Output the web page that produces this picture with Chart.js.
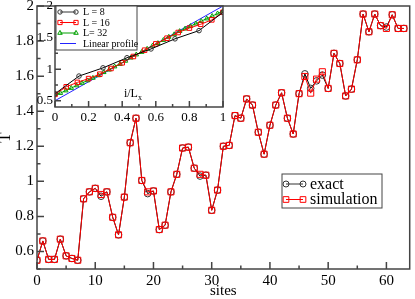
<!DOCTYPE html>
<html>
<head>
<meta charset="utf-8">
<script src="https://cdn.jsdelivr.net/npm/chart.js@4/dist/chart.umd.min.js"></script>
<style>
  body { margin: 0; background: #fff; }
  #wrap { position: relative; width: 415px; height: 299px; }
  #main { position: absolute; left: 0; top: 0; }
  #inset { position: absolute; left: 0; top: 0; }
</style>
</head>
<body>
<div id="wrap">
  <canvas id="main" width="415" height="299"></canvas>
  <canvas id="inset" width="228" height="125"></canvas>
</div>
<script>
// main plot: temperature along the chain
var sites = [];
for (var s = 0; s < 64; s++) sites.push(s);

var exactT = [0.55, 0.66, 0.555, 0.555, 0.67, 0.575, 0.56, 0.55, 0.90, 0.94,
              0.96, 0.915, 0.94, 0.795, 0.695, 0.91, 1.22, 1.36, 1.005, 0.93,
              0.945, 0.725, 0.75, 0.94, 1.04, 1.19, 1.195, 1.075, 1.03, 1.035,
              0.835, 0.95, 1.20, 1.205, 1.375, 1.36, 1.47, 1.435, 1.28, 1.155,
              1.32, 1.435, 1.505, 1.36, 1.27, 1.50, 1.613, 1.53, 1.573, 1.606,
              1.53, 1.73, 1.672, 1.487, 1.526, 1.693, 1.954, 1.853, 1.954, 1.888,
              1.88, 1.95, 1.872, 1.872];
var simT   = [0.55, 0.66, 0.555, 0.555, 0.67, 0.575, 0.56, 0.55, 0.90, 0.94,
              0.96, 0.925, 0.94, 0.795, 0.695, 0.91, 1.22, 1.36, 1.005, 0.94,
              0.945, 0.725, 0.75, 0.94, 1.04, 1.19, 1.195, 1.075, 1.04, 1.035,
              0.835, 0.95, 1.20, 1.205, 1.375, 1.36, 1.47, 1.435, 1.28, 1.155,
              1.32, 1.435, 1.505, 1.36, 1.27, 1.50, 1.598, 1.503, 1.583, 1.625,
              1.53, 1.73, 1.672, 1.487, 1.526, 1.693, 1.954, 1.853, 1.954, 1.888,
              1.872, 1.95, 1.872, 1.872];

var xMajor = [0, 10, 20, 30, 40, 50, 60];
var xMinor = [5, 15, 25, 35, 45, 55];
var yMajor = [0.6, 0.8, 1, 1.2, 1.4, 1.6, 1.8, 2];
var yMinor = [0.5, 0.7, 0.9, 1.1, 1.3, 1.5, 1.7, 1.9];

// inset: profiles vs i/Lx
var xL8  = [0, 1/7, 2/7, 3/7, 4/7, 5/7, 6/7, 1];
var tL8  = [0.61, 0.89, 1.02, 1.18, 1.32, 1.48, 1.61, 1.90];
var xL16 = [];
for (var a = 0; a < 16; a++) xL16.push(a / 15);
var tL16 = [0.60, 0.72, 0.79, 0.85, 0.92, 1.01, 1.10, 1.20,
            1.30, 1.40, 1.49, 1.58, 1.65, 1.71, 1.78, 1.90];
var xL32 = [];
for (var b = 0; b < 32; b++) xL32.push(b / 31);
var tL32 = [0.60, 0.62, 0.66, 0.70, 0.74, 0.78, 0.82, 0.86, 0.90, 0.95,
            0.99, 1.04, 1.08, 1.13, 1.18, 1.23, 1.27, 1.32, 1.37, 1.41,
            1.46, 1.51, 1.55, 1.60, 1.64, 1.68, 1.72, 1.76, 1.80, 1.84,
            1.88, 1.92];
var xLin = [0, 1];
var tLin = [0.5, 2];

var ixMajor = [0, 0.2, 0.4, 0.6, 0.8, 1];
var ixMinor = [0.1, 0.3, 0.5, 0.7, 0.9];
var iyMajor = [0.5, 1, 1.5, 2];
var iyMinor = [0.75, 1.25, 1.75];

var serif = "'Liberation Serif', 'DejaVu Serif', serif";
var frameColor = '#444';

function pts(xs, ys) {
  return xs.map(function (x, i) { return { x: x, y: ys[i] }; });
}
function plain(v) { return String(v); }
function noPad(sc) {
  sc.paddingLeft = 0; sc.paddingRight = 0;
  sc.paddingTop = 0; sc.paddingBottom = 0;
}

function marker(ctx, style, x, y, r, color) {
  ctx.strokeStyle = color;
  ctx.lineWidth = 1;
  ctx.beginPath();
  if (style === 'circle') {
    ctx.arc(x, y, r, 0, Math.PI * 2);
  } else if (style === 'rect') {
    var h = r * Math.SQRT1_2;
    ctx.rect(x - h, y - h, 2 * h, 2 * h);
  } else if (style === 'triangle') {
    ctx.moveTo(x, y - r);
    ctx.lineTo(x + r * 0.87, y + r * 0.5);
    ctx.lineTo(x - r * 0.87, y + r * 0.5);
    ctx.closePath();
  }
  ctx.stroke();
}

// box + inward ticks, the xmgrace way
var frameTicks = {
  id: 'frameTicks',
  afterDatasetsDraw: function (chart, args, o) {
    var ctx = chart.ctx, ar = chart.chartArea;
    var xs = chart.scales.x, ys = chart.scales.y;
    ctx.save();
    ctx.strokeStyle = frameColor;
    ctx.lineWidth = 1.5;
    ctx.strokeRect(ar.left, ar.top, ar.right - ar.left, ar.bottom - ar.top);
    ctx.beginPath();
    o.xMajor.forEach(function (v) { var p = xs.getPixelForValue(v); ctx.moveTo(p, ar.bottom); ctx.lineTo(p, ar.bottom - o.major); });
    o.xMinor.forEach(function (v) { var p = xs.getPixelForValue(v); ctx.moveTo(p, ar.bottom); ctx.lineTo(p, ar.bottom - o.minor); });
    o.yMajor.forEach(function (v) { var p = ys.getPixelForValue(v); ctx.moveTo(ar.left, p); ctx.lineTo(ar.left + o.major, p); });
    o.yMinor.forEach(function (v) { var p = ys.getPixelForValue(v); ctx.moveTo(ar.left, p); ctx.lineTo(ar.left + o.minor, p); });
    ctx.stroke();
    ctx.restore();
  }
};

// legend boxes drawn inside the plot
var boxLegend = {
  id: 'boxLegend',
  afterDraw: function (chart, args, o) {
    var ctx = chart.ctx;
    ctx.save();
    ctx.fillStyle = '#fff';
    ctx.fillRect(o.x, o.y, o.w, o.h);
    ctx.strokeStyle = frameColor;
    ctx.lineWidth = 1;
    ctx.strokeRect(o.x, o.y, o.w, o.h);
    ctx.font = o.font;
    ctx.textBaseline = 'middle';
    o.items.forEach(function (it, i) {
      var y = o.y + o.first + i * o.step;
      var x0 = o.x + o.lx0, x1 = o.x + o.lx1;
      ctx.strokeStyle = it.color;
      ctx.lineWidth = 1;
      ctx.beginPath();
      ctx.moveTo(x0, y);
      ctx.lineTo(x1, y);
      ctx.stroke();
      if (it.style) {
        marker(ctx, it.style, x0, y, it.r, it.color);
        marker(ctx, it.style, x1, y, it.r, it.color);
      }
      ctx.fillStyle = '#000';
      ctx.fillText(it.text, o.x + o.tx, y + 0.5);
    });
    ctx.restore();
  }
};

var mainChart = new Chart(document.getElementById('main').getContext('2d'), {
  type: 'line',
  data: {
    datasets: [{
      label: 'simulation',
      data: pts(sites, simT),
      borderColor: '#ff0000',
      borderWidth: 1,
      pointStyle: 'rect',
      pointRadius: 4.3,
      pointBorderColor: '#ff0000',
      pointBackgroundColor: 'rgba(0,0,0,0)',
      pointBorderWidth: 1
    }, {
      label: 'exact',
      data: pts(sites, exactT),
      borderColor: '#000',
      borderWidth: 1,
      pointStyle: 'circle',
      pointRadius: 3.3,
      pointBorderColor: '#333',
      pointBackgroundColor: 'rgba(0,0,0,0)',
      pointBorderWidth: 1
    }]
  },
  options: {
    responsive: false,
    animation: false,
    layout: { padding: { top: 6, right: 2 } },
    plugins: {
      legend: { display: false },
      tooltip: { enabled: false },
      frameTicks: { xMajor: xMajor, xMinor: xMinor, yMajor: yMajor, yMinor: yMinor, major: 7, minor: 3.5 },
      boxLegend: {
        x: 282, y: 174, w: 100, h: 34, first: 10, step: 15.5, lx0: 4, lx1: 21, tx: 28,
        font: '16px ' + serif,
        items: [
          { text: 'exact', color: '#333', style: 'circle', r: 3 },
          { text: 'simulation', color: '#ff0000', style: 'rect', r: 4 }
        ]
      }
    },
    scales: {
      x: {
        type: 'linear', min: 0, max: 64,
        grid: { display: false, drawTicks: false },
        border: { display: false },
        afterBuildTicks: function (sc) { sc.ticks = xMajor.map(function (v) { return { value: v }; }); },
        afterFit: function (sc) { sc.height = 30; noPad(sc); },
        ticks: { color: '#000', padding: 3, font: { family: serif, size: 15 }, maxRotation: 0, callback: plain },
        title: { display: true, text: 'sites', color: '#000', font: { family: serif, size: 15, lineHeight: 1 }, padding: { top: 0, bottom: 0 } }
      },
      y: {
        type: 'linear', min: 0.5, max: 2,
        grid: { display: false, drawTicks: false },
        border: { display: false },
        afterBuildTicks: function (sc) { sc.ticks = yMajor.map(function (v) { return { value: v }; }); },
        afterFit: function (sc) { sc.width = 37; noPad(sc); },
        ticks: { color: '#000', padding: 3, font: { family: serif, size: 15 }, callback: plain },
        title: { display: true, text: 'T', color: '#000', font: { family: serif, size: 17, lineHeight: 0.6 }, padding: 0 }
      }
    }
  },
  plugins: [frameTicks, boxLegend]
});

// i/L_x label inside the inset
var axisNote = {
  id: 'axisNote',
  afterDraw: function (chart) {
    var ctx = chart.ctx;
    var x = chart.scales.x.getPixelForValue(0.41);
    var y = chart.scales.y.getPixelForValue(0.56);
    ctx.save();
    ctx.fillStyle = '#000';
    ctx.textBaseline = 'alphabetic';
    ctx.font = '12px ' + serif;
    ctx.fillText('i/L', x, y);
    var w = ctx.measureText('i/L').width;
    ctx.font = '8px ' + serif;
    ctx.fillText('x', x + w, y + 3);
    ctx.restore();
  }
};

var insetChart = new Chart(document.getElementById('inset').getContext('2d'), {
  type: 'line',
  data: {
    datasets: [{
      label: 'L = 8',
      data: pts(xL8, tL8),
      borderColor: '#000', borderWidth: 1,
      pointStyle: 'circle', pointRadius: 2.3,
      pointBorderColor: '#333', pointBackgroundColor: 'rgba(0,0,0,0)', pointBorderWidth: 1
    }, {
      label: 'L = 16',
      data: pts(xL16, tL16),
      borderColor: '#ff0000', borderWidth: 1,
      pointStyle: 'rect', pointRadius: 3.2,
      pointBorderColor: '#ff0000', pointBackgroundColor: 'rgba(0,0,0,0)', pointBorderWidth: 1
    }, {
      label: 'L= 32',
      data: pts(xL32, tL32),
      borderColor: '#00a000', borderWidth: 1,
      pointStyle: 'triangle', pointRadius: 2.6,
      pointBorderColor: '#00a000', pointBackgroundColor: 'rgba(0,0,0,0)', pointBorderWidth: 1
    }, {
      label: 'Linear profile',
      data: pts(xLin, tLin),
      borderColor: '#2222ff', borderWidth: 1,
      pointRadius: 0
    }]
  },
  options: {
    responsive: false,
    animation: false,
    layout: { padding: { top: 6, right: 3 } },
    plugins: {
      legend: { display: false },
      tooltip: { enabled: false },
      frameTicks: { xMajor: ixMajor, xMinor: ixMinor, yMajor: iyMajor, yMinor: iyMinor, major: 6, minor: 3 },
      boxLegend: {
        x: 56, y: 6, w: 81, h: 44, first: 6, step: 10.5, lx0: 4, lx1: 20, tx: 27,
        font: '10px ' + serif,
        items: [
          { text: 'L = 8', color: '#333', style: 'circle', r: 2.2 },
          { text: 'L = 16', color: '#ff0000', style: 'rect', r: 3 },
          { text: 'L= 32', color: '#00a000', style: 'triangle', r: 2.6 },
          { text: 'Linear profile', color: '#2222ff', style: null }
        ]
      }
    },
    scales: {
      x: {
        type: 'linear', min: 0, max: 1,
        grid: { display: false, drawTicks: false },
        border: { display: false },
        afterBuildTicks: function (sc) { sc.ticks = ixMajor.map(function (v) { return { value: v }; }); },
        afterFit: function (sc) { sc.height = 18; noPad(sc); },
        ticks: { color: '#000', padding: 3, font: { family: serif, size: 13 }, maxRotation: 0, callback: plain }
      },
      y: {
        type: 'linear', min: 0.4, max: 2,
        grid: { display: false, drawTicks: false },
        border: { display: false },
        afterBuildTicks: function (sc) { sc.ticks = iyMajor.map(function (v) { return { value: v }; }); },
        afterFit: function (sc) { sc.width = 55; noPad(sc); },
        ticks: { color: '#000', padding: 2, font: { family: serif, size: 13 }, callback: plain }
      }
    }
  },
  plugins: [frameTicks, boxLegend, axisNote]
});
</script>
</body>
</html>
